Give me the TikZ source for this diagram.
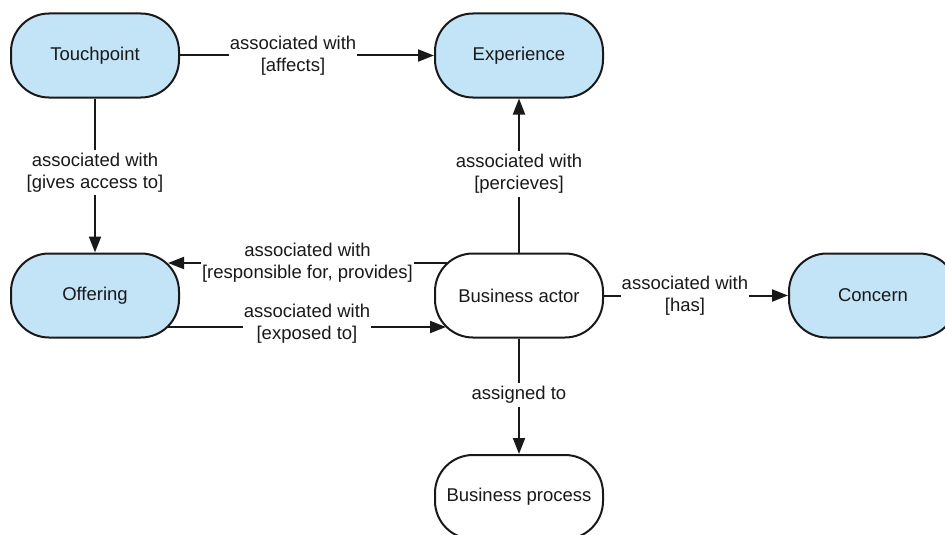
\documentclass[tikz,border=0pt]{standalone}
\usepackage{fontspec}
\setmainfont{Liberation Sans}
\usetikzlibrary{arrows.meta}
\definecolor{boxblue}{RGB}{195,227,246}
\definecolor{ink}{RGB}{25,25,25}
\begin{document}
\begin{tikzpicture}[x=1pt,y=-1pt,
  every node/.style={font=\fontsize{18.5}{22}\selectfont, text=ink},
  concept/.style={draw=ink, line width=2pt, rounded corners=38pt,
    minimum width=168pt, minimum height=84pt, inner sep=0pt},
  bluebox/.style={concept, fill=boxblue},
  whitebox/.style={concept, fill=white},
  rel/.style={draw=ink, line width=2pt, -{Triangle[length=16pt,width=12pt]}},
  lbl/.style={fill=white, align=center, inner xsep=1pt, inner ysep=3pt}
]
\useasboundingbox (0,0) rectangle (945,535);
\clip (0,0) rectangle (945,535);

% concepts
\node[bluebox]  (tp)  at (95,55.5)   {Touchpoint};
\node[bluebox]  (exp) at (519,55.5)  {Experience};
\node[bluebox]  (off) at (95,295.5)  {Offering};
\node[whitebox] (ba)  at (519,295.5) {Business actor};
\node[bluebox]  (con) at (873,295.5) {Concern};
\node[whitebox] (bp)  at (519,497)   {Business process};

% attachment points on the rounded ends
\coordinate (offUp) at ([shift={(73,-32.5)}]off.center);
\coordinate (offDn) at ([shift={(73,31.5)}]off.center);
\coordinate (baUp)  at ([shift={(-72,-32.5)}]ba.center);
\coordinate (baDn)  at ([shift={(-73,31.5)}]ba.center);

% relations
\draw[rel] (tp.east) -- node[lbl, pos=0.445] {associated with\\{}[affects]} (exp.west);
\draw[rel] (tp.south) -- node[lbl, pos=0.48] {associated with\\{}[gives access to]} (off.north);
\draw[rel] (ba.north) -- node[lbl, pos=0.51] {associated with\\{}[percieves]} (exp.south);
\draw[rel] (baUp) -- node[lbl, pos=0.5] {associated with\\{}[responsible for, provides]} (offUp);
\draw[rel] (offDn) -- node[lbl, pos=0.5, yshift=3pt] {associated with\\{}[exposed to]} (baDn);
\draw[rel] (ba.east) -- node[lbl, pos=0.44] {associated with\\{}[has]} (con.west);
\draw[rel] (ba.south) -- node[lbl, pos=0.49] {assigned to} (bp.north);
\end{tikzpicture}
\end{document}
